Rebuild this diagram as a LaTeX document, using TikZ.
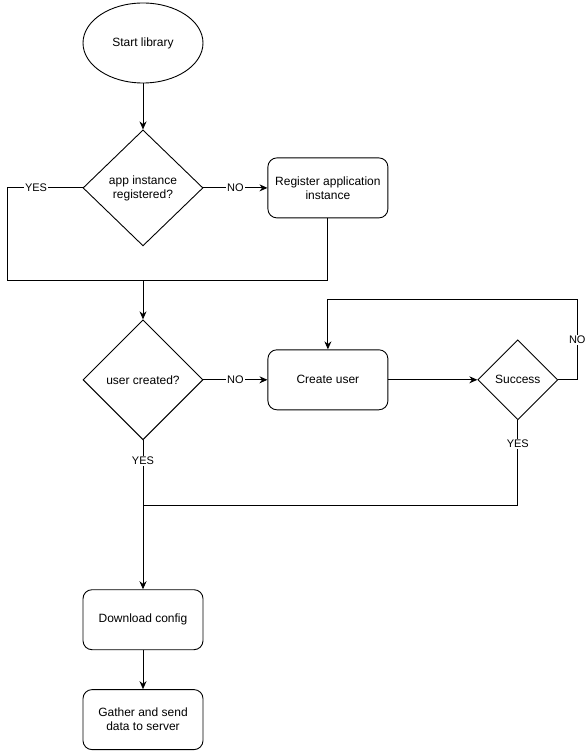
\documentclass[tikz,border=0pt]{standalone}
\usepackage{fontspec}
\setmainfont{Liberation Sans}
\usetikzlibrary{
  arrows.meta,
  positioning,
  shapes.geometric,
}
\tikzset{
  >={Stealth[length=8pt,width=7pt]},
}

\begin{document}
\begin{tikzpicture}[node distance=64pt and 64pt,line width=0.9pt,
    every node/.style={font=\fontsize{12}{14}\selectfont},
    terminal/.style={draw,ellipse,minimum width=120pt,minimum height=80pt,inner sep=0pt},
    process/.style={draw,rectangle,rounded corners=9pt,minimum width=120pt,minimum height=60pt,align=center,inner sep=0pt},
    decision/.style={draw,diamond,minimum width=120pt,minimum height=120pt,align=center,inner sep=0pt},
    lbl/.style={fill=white,inner sep=1pt,font=\fontsize{11}{13}\selectfont}]

        \useasboundingbox (0,0) rectangle (586pt,-751pt);

        \node[terminal]    (start) at (143pt,-43pt)    {Start library};
        \node[decision,minimum height=116pt]    (qapp) [below=46pt of start]    {app instance\\registered?};
        \node[process]    (reg) [right=of qapp]    {Register application\\instance};
        \node[decision]    (quser) [below=73pt of qapp]    {user created?};
        \node[process]    (cuser) [right=of quser]    {Create user};
        \node[decision,minimum width=80pt,minimum height=80pt]    (ok) [right=89pt of cuser]    {Success};
        \node[process]    (dl) [below=149pt of quser]    {Download config};
        \node[process]    (send) [below=39pt of dl]    {Gather and send\\data to server};

        \coordinate[left=75pt of qapp.west]    (yesl);
        \coordinate[below=62pt of reg.south]    (join1);
        \coordinate[above right=80pt and 19pt of ok.east]    (loop);
        \coordinate[below=85pt of ok.south]    (join2);

        \draw[->] (start.south) -- (qapp.north);
        \draw[->] (qapp.east) -- node[lbl]{NO} (reg.west);
        \draw (qapp.west) -- node[lbl,pos=0.62]{YES} (yesl) |- (join1) -- (reg.south);
        \draw[->] (join1 -| qapp.south) -- (quser.north);
        \draw[->] (quser.east) -- node[lbl]{NO} (cuser.west);
        \draw[->] (cuser.east) -- (ok.west);
        \draw[->] (ok.east) -| node[lbl,pos=0.75]{NO} (loop) -| (cuser.north);
        \draw (ok.south) -- node[lbl,pos=0.28]{YES} (join2) -- (join2 -| quser.south);
        \draw[->] (quser.south) -- node[lbl,pos=0.14]{YES} (dl.north);
        \draw[->] (dl.south) -- (send.north);

    \end{tikzpicture}
\end{document}
